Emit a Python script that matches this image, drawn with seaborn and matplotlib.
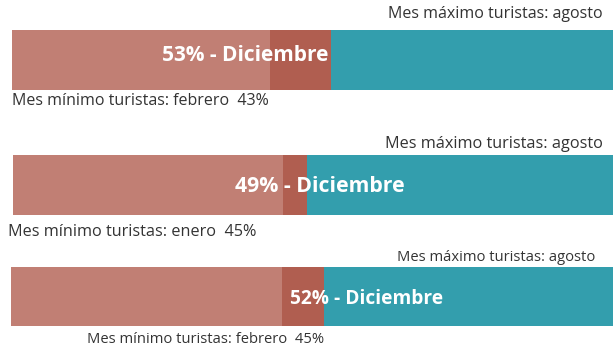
import matplotlib
matplotlib.use("Agg")
import matplotlib.pyplot as plt
import seaborn as sns
import pandas as pd

# Share of tourists per period, one row per bar
min_month = ["febrero", "enero", "febrero"]
min_pct = [43, 45, 45]
dec_pct = [53, 49, 52]
max_month = ["agosto", "agosto", "agosto"]
total_pct = [100, 100, 100]

c_min = "#C17F74"
c_dec = "#B05E50"
c_rest = "#339EAD"
text_c = "#333333"

sns.set_theme(style="white")
plt.rcParams["font.family"] = ["Open Sans", "DejaVu Sans"]

W, H = 613, 349
fig = plt.figure(figsize=(W / 100, H / 100), dpi=100)

# axes boxes in pixels: left, top, right, bottom
boxes = [(12, 30, 613, 90), (13, 155, 613, 215), (11, 267, 613, 326)]
# label placement per bar (data x, axes-relative y)
max_pos = [(98.2, -0.76), (98.3, -0.68), (97.0, -0.66)]
bold_pos = [(38.8, -0.07), (51.2, 0.03), (59.0, 0.04)]
min_pos = [(0.0, 0.68), (-0.83, 0.79), (12.6, 0.73)]
scale = [1.0, 1.02, 0.92]

for i, (l, t, r, b) in enumerate(boxes):
    ax = fig.add_axes([l / W, 1 - b / H, (r - l) / W, (b - t) / H])
    row = pd.DataFrame({"cat": ["x"], "total": [total_pct[i]],
                        "dec": [dec_pct[i]], "min": [min_pct[i]]})
    sns.barplot(data=row, x="total", y="cat", orient="h", color=c_rest,
                width=1, saturation=1, ax=ax, linewidth=0)
    sns.barplot(data=row, x="dec", y="cat", orient="h", color=c_dec,
                width=1, saturation=1, ax=ax, linewidth=0)
    sns.barplot(data=row, x="min", y="cat", orient="h", color=c_min,
                width=1, saturation=1, ax=ax, linewidth=0)
    ax.set_xlim(0, 100)
    ax.set_ylim(0.5, -0.5)
    ax.axis("off")

    s = scale[i]
    mx, my = max_pos[i]
    ax.text(mx, my, f"Mes máximo turistas: {max_month[i]}", ha="right",
            va="center", fontsize=11.5 * s, color=text_c, clip_on=False)
    bx, by = bold_pos[i]
    ax.text(bx, by, f"{dec_pct[i]}% - Diciembre", ha="center", va="center",
            fontsize=15 * s, fontweight="bold", color="white", clip_on=False)
    nx, ny = min_pos[i]
    ax.text(nx, ny, f"Mes mínimo turistas: {min_month[i]}  {min_pct[i]}%",
            ha="left", va="center", fontsize=11.5 * s, color=text_c,
            clip_on=False)

fig.savefig("out.png", dpi=100)
